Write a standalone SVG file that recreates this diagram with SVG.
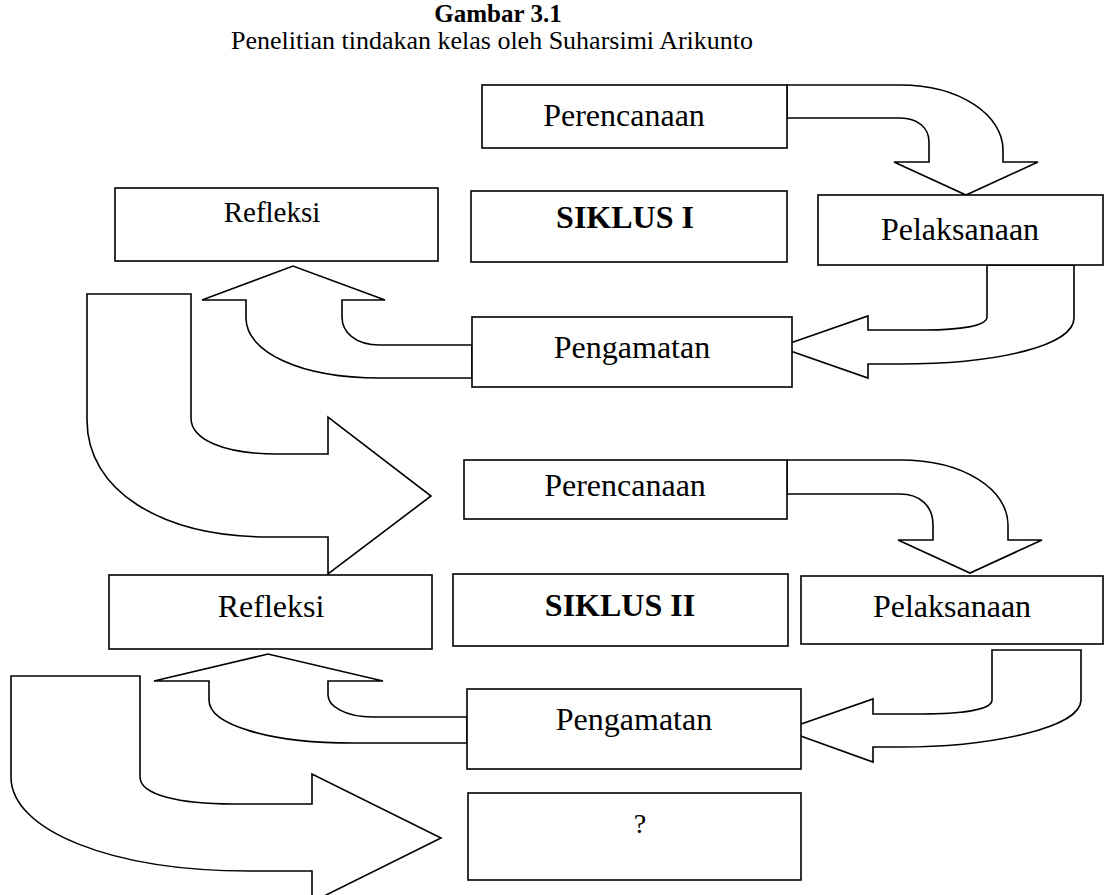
<svg xmlns="http://www.w3.org/2000/svg" width="1120" height="895" viewBox="0 0 1120 895">
<style>
.bx{fill:#fff;stroke:#000;stroke-width:1.6}
.ar{fill:#fff;stroke:#000;stroke-width:1.6;stroke-linejoin:miter}
.t{font-family:"Liberation Serif","Times New Roman",serif;font-size:32px;fill:#000;text-anchor:middle}
.b{font-weight:bold}
.h{font-family:"Liberation Serif","Times New Roman",serif;font-size:26px;fill:#000;text-anchor:middle}
</style>
<rect width="1120" height="895" fill="#fff"/>
<g id="title">
<text class="h b" x="498" y="22" style="font-size:25px">Gambar 3.1</text>
<text class="h" x="492" y="49">Penelitian tindakan kelas oleh Suharsimi Arikunto</text>
</g>
<g id="connectors">
<path class="ar" d="M787,85 L900,85 C960,85 1003,115 1003,150 L1003,162 L1038,162 L966,195 L894,162 L929,162 L929,142 C929,128 918,118 900,118 L787,118 Z"/>
<path class="ar" d="M987,265 L987,317 C987,326 960,330 925,330 L868,330 L868,316 L779,347 L868,378 L868,364 L900,364 C1000,364 1074,345 1074,318 L1074,265 Z"/>
<path class="ar" d="M472,345 L380,345 C355,345 342,332 342,317 L342,300 L385,300 L293,266 L202,300 L246,300 L246,318 C246,352 300,378 380,378 L472,378 Z"/>
<path class="ar" d="M87,294 L191,294 L191,418 C191,440 225,454 277,454 L328,454 L328,417 L431,496 L328,574 L328,537 L270,537 C160,537 87,490 87,420 Z"/>
<path class="ar" d="M787,460 L900,460 C965,460 1008,490 1008,525 L1008,540 L1042,540 L970,573 L898,540 L933,540 L933,525 C933,506 920,494 900,494 L787,494 Z"/>
<path class="ar" d="M992,650 L992,700 C992,710 960,714 920,714 L873,714 L873,699 L784,730 L873,762 L873,747 L900,747 C990,747 1081,728 1081,700 L1081,650 Z"/>
<path class="ar" d="M467,717 L373,717 C345,717 328,706 328,695 L328,681 L383,681 L268,654 L154,681 L209,681 L209,700 C209,725 270,743 353,743 L467,743 Z"/>
<path class="ar" d="M11,676 L140,676 L140,777 C140,795 180,804 233,804 L312,804 L312,774 L441,838 L312,902 L312,871 L250,871 C110,871 11,830 11,777 Z"/>
</g>
<g id="perencanaan1"><rect class="bx" x="482" y="85" width="305" height="63"/><text class="t" x="624" y="126">Perencanaan</text></g>
<g id="refleksi1"><rect class="bx" x="115" y="188" width="323" height="73"/><text class="t" x="272" y="222" style="font-size:29px">Refleksi</text></g>
<g id="siklus1"><rect class="bx" x="471" y="191" width="316" height="71"/><text class="t b" x="625" y="228">SIKLUS I</text></g>
<g id="pelaksanaan1"><rect class="bx" x="818" y="195" width="285" height="70"/><text class="t" x="960" y="240">Pelaksanaan</text></g>
<g id="pengamatan1"><rect class="bx" x="472" y="317" width="320" height="70"/><text class="t" x="632" y="358">Pengamatan</text></g>
<g id="perencanaan2"><rect class="bx" x="464" y="460" width="323" height="59"/><text class="t" x="625" y="496">Perencanaan</text></g>
<g id="refleksi2"><rect class="bx" x="109" y="575" width="323" height="74"/><text class="t" x="271" y="617">Refleksi</text></g>
<g id="siklus2"><rect class="bx" x="453" y="574" width="335" height="72"/><text class="t b" x="620" y="616">SIKLUS II</text></g>
<g id="pelaksanaan2"><rect class="bx" x="801" y="576" width="302" height="68"/><text class="t" x="952" y="617">Pelaksanaan</text></g>
<g id="pengamatan2"><rect class="bx" x="467" y="689" width="334" height="80"/><text class="t" x="634" y="730">Pengamatan</text></g>
<g id="tanya"><rect class="bx" x="468" y="793" width="333" height="87"/><text class="t" x="640" y="833" style="font-size:28px">?</text></g>
</svg>
